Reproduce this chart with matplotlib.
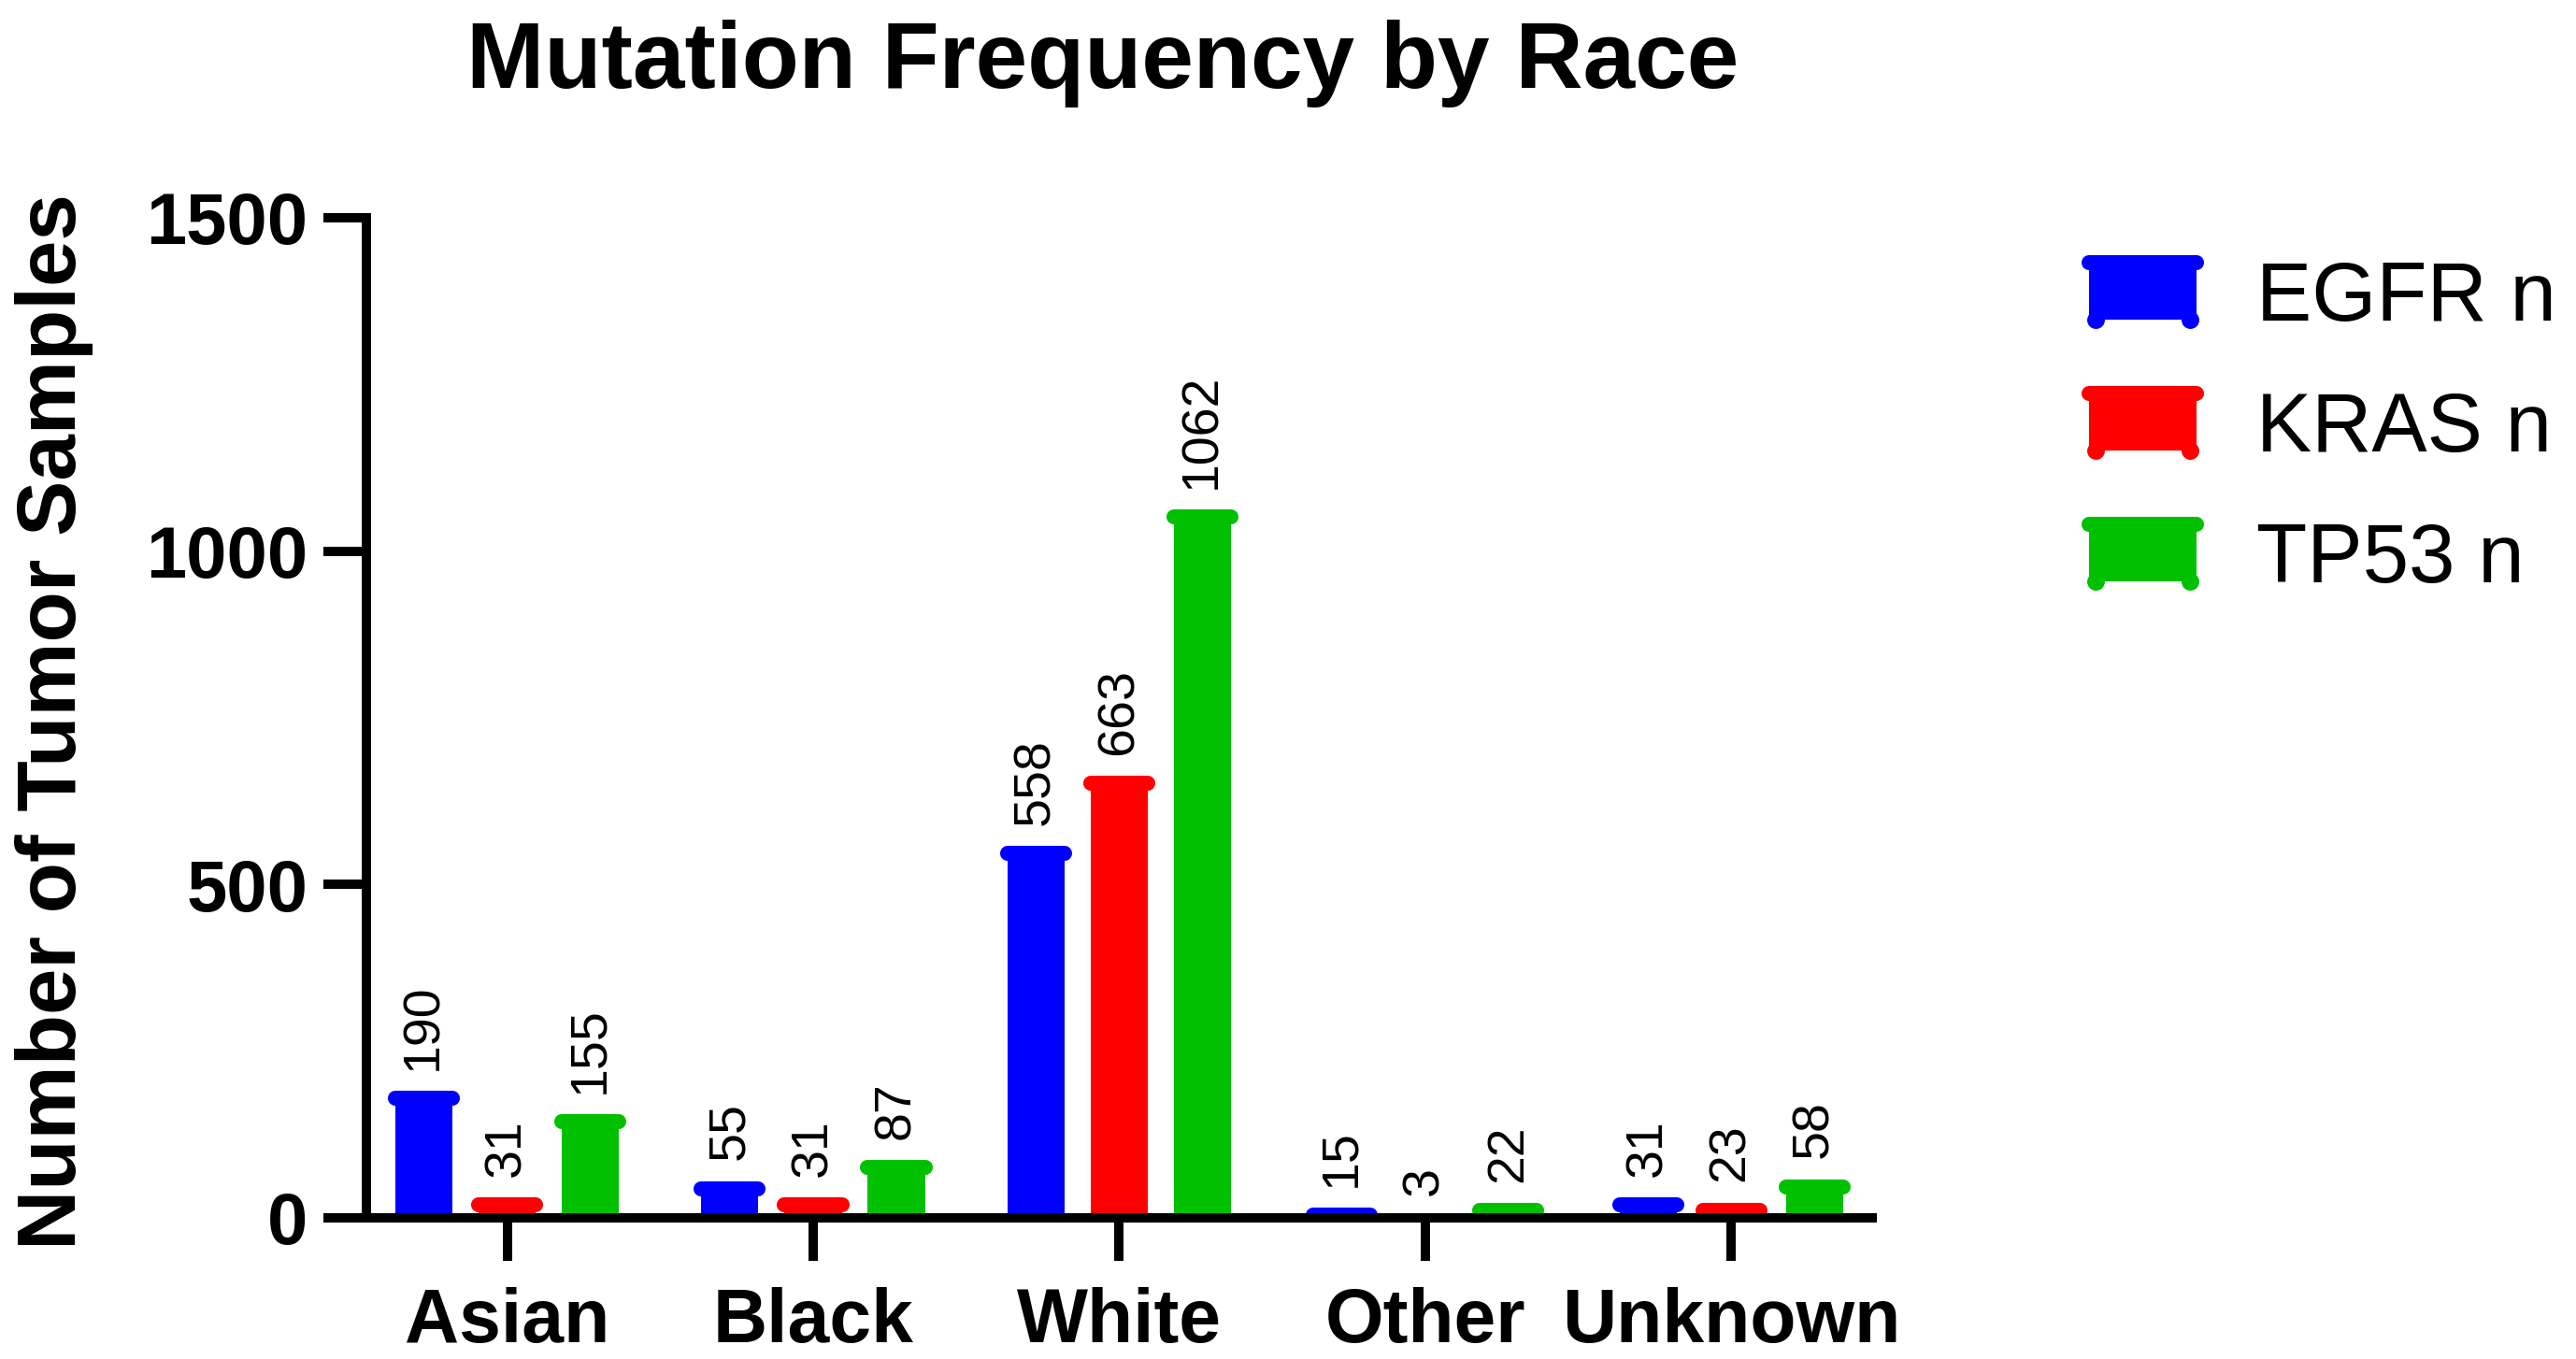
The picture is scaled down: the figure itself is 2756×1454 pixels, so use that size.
import matplotlib
matplotlib.use('Agg')
import matplotlib.pyplot as plt
import numpy as np
from matplotlib.patches import Rectangle, Patch
from matplotlib.lines import Line2D
from matplotlib.legend_handler import HandlerBase
from matplotlib.transforms import ScaledTranslation

plt.rcParams['font.family'] = ['Liberation Sans', 'DejaVu Sans']

races = ['Asian', 'Black', 'White', 'Other', 'Unknown']
egfr = [190, 55, 558, 15, 31]
kras = [31, 31, 663, 3, 23]
tp53 = [155, 87, 1062, 22, 58]
series_names = ['EGFR n', 'KRAS n', 'TP53 n']
colors = ['#0000FF', '#FF0000', '#00C000']

fig = plt.figure(figsize=(13.78, 7.27), dpi=200)
fig.patch.set_facecolor('white')
ax = fig.add_axes([0.1422, 0.1039, 0.5845, 0.7359])

x = np.arange(len(races))
bar_w = 0.187
offset = 0.272
cap_lw = 5.8  # pt
down = ScaledTranslation(0, -cap_lw / 2 / 72, fig.dpi_scale_trans)

for i, (vals, col) in enumerate(zip([egfr, kras, tp53], colors)):
    xs = x + (i - 1) * offset
    ax.bar(xs, vals, width=bar_w, color=col, edgecolor='none', zorder=1)
    for xi, v in zip(xs, vals):
        # rounded cap on top of each bar
        ax.plot([xi - bar_w / 2, xi + bar_w / 2], [v, v], color=col, lw=cap_lw,
                solid_capstyle='round', transform=ax.transData + down, zorder=2)
        ax.annotate(str(v), (xi, v), xytext=(0, 8), textcoords='offset points',
                    rotation=90, ha='center', va='bottom', fontsize=20, color='black')

ax.set_xlim(-0.46, 4.46)
ax.set_ylim(0, 1500)
ax.set_yticks([0, 500, 1000, 1500])
ax.set_xticks(x)
ax.set_xticklabels(races, fontsize=29, fontweight='bold')
ax.tick_params(axis='y', labelsize=28, width=3.6, length=16.5, pad=6)
ax.tick_params(axis='x', width=3.6, length=16.5, pad=10)
for lab in ax.get_yticklabels():
    lab.set_fontweight('bold')
for s in ['top', 'right']:
    ax.spines[s].set_visible(False)
for s in ['left', 'bottom']:
    ax.spines[s].set_linewidth(3.6)
    ax.spines[s].set_zorder(5)

fig.text(0.428, 0.953, 'Mutation Frequency by Race', fontsize=36, fontweight='bold',
         ha='center', va='center')
fig.text(0.0212, 0.469, 'Number of Tumor Samples', fontsize=32, fontweight='bold',
         rotation=90, ha='center', va='center')


class CapHandler(HandlerBase):
    def create_artists(self, legend, orig_handle, xdescent, ydescent, width, height, fontsize, trans):
        col = orig_handle.get_facecolor()
        x0, y0 = -xdescent, -ydescent
        body = Rectangle((x0, y0), width, height, facecolor=col, edgecolor='none', transform=trans)
        top = Line2D([x0, x0 + width], [y0 + height, y0 + height], color=col, lw=cap_lw,
                     solid_capstyle='round', transform=trans)
        inset = width * 0.06
        knobs = Line2D([x0 + inset, x0 + width - inset], [y0, y0], color=col, lw=0,
                       marker='o', markersize=cap_lw, transform=trans)
        return [body, top, knobs]


handles = [Patch(facecolor=c) for c in colors]
fig.legend(handles, series_names, loc='upper left', bbox_to_anchor=(0.811, 0.809),
           frameon=False, fontsize=32, handlelength=1.29, handleheight=0.67,
           handletextpad=0.72, labelspacing=0.63, borderpad=0, borderaxespad=0,
           handler_map={Patch: CapHandler()})

fig.savefig('out.png', dpi=200, facecolor='white')
